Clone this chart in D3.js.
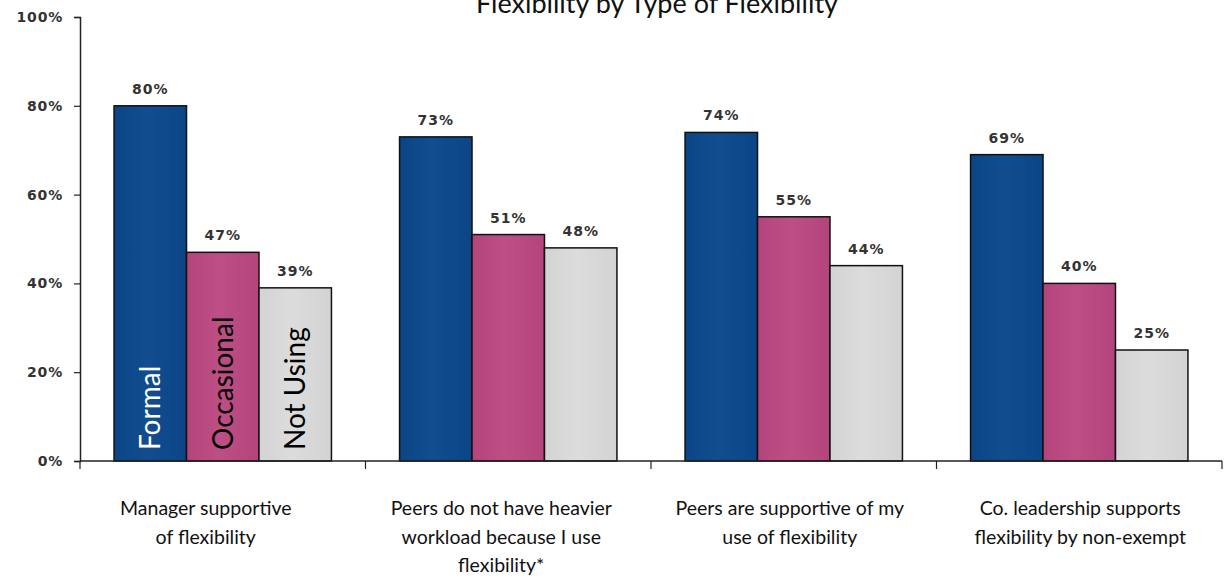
<!DOCTYPE html>
<html>
<head>
<meta charset="utf-8">
<script src="https://cdn.jsdelivr.net/npm/d3@7"></script>
<style>
  html, body { margin: 0; padding: 0; background: #fff; }
  svg { display: block; }
</style>
</head>
<body>
<svg id="chart" width="1228" height="578"></svg>
<script>
// Share of employees agreeing, by type of flexibility arrangement
const categories = [
  ["Manager supportive", "of flexibility"],
  ["Peers do not have heavier", "workload because I use", "flexibility*"],
  ["Peers are supportive of my", "use of flexibility"],
  ["Co. leadership supports", "flexibility by non-exempt"]
];
const seriesNames = ["Formal", "Occasional", "Not Using"];
const formal     = [80, 73, 74, 69];
const occasional = [47, 51, 55, 40];
const notUsing   = [39, 48, 44, 25];
const yTicks = [0, 20, 40, 60, 80, 100];
const title = "Flexibility by Type of Flexibility";

const seriesValues = [formal, occasional, notUsing];
const fills = ["#0b4586", "#b4457c", "#d3d3d3"];
const fillsLight = ["#114d8f", "#bd4f86", "#dcdcdc"];
const inBarText = ["#ffffff", "#000000", "#000000"];
// horizontal nudge for each category caption (px)
const captionNudge = [-17, -7, -4, 1];

const svg = d3.select("#chart");
const margin = { left: 80, right: 6, top: 17, bottom: 117 };
const W = 1228, H = 578;

const x0 = d3.scaleBand()
  .domain(d3.range(categories.length))
  .range([margin.left, W - margin.right])
  .paddingInner(0).paddingOuter(0);
const x1 = d3.scaleBand()
  .domain(d3.range(seriesNames.length))
  .range([0, x0.bandwidth()])
  .paddingOuter(0.47).paddingInner(0);
const y = d3.scaleLinear().domain([0, 100]).range([H - margin.bottom, margin.top]);

// soft horizontal shading on each bar
const defs = svg.append("defs");
fills.forEach((c, i) => {
  const g = defs.append("linearGradient").attr("id", "g" + i)
    .attr("x1", "0").attr("x2", "1").attr("y1", "0").attr("y2", "0");
  g.append("stop").attr("offset", "0%").attr("stop-color", c);
  g.append("stop").attr("offset", "45%").attr("stop-color", fillsLight[i]);
  g.append("stop").attr("offset", "100%").attr("stop-color", c);
});

// title
svg.append("text")
  .attr("x", 657).attr("y", 13)
  .attr("text-anchor", "middle")
  .attr("font-family", "Lato, 'Open Sans', sans-serif")
  .attr("font-size", 27)
  .attr("fill", "#111")
  .text(title);

// bars
const groups = svg.append("g").selectAll("g")
  .data(categories.map((c, i) => i))
  .join("g")
  .attr("transform", i => `translate(${x0(i)},0)`);

groups.selectAll("rect")
  .data(i => seriesValues.map((s, k) => ({ k, v: s[i] })))
  .join("rect")
  .attr("x", d => x1(d.k))
  .attr("y", d => y(d.v))
  .attr("width", x1.bandwidth())
  .attr("height", d => y(0) - y(d.v))
  .attr("fill", d => `url(#g${d.k})`)
  .attr("stroke", "#111")
  .attr("stroke-width", 1.5);

// value labels
groups.selectAll("text.val")
  .data(i => seriesValues.map((s, k) => ({ k, v: s[i] })))
  .join("text")
  .attr("class", "val")
  .attr("x", d => x1(d.k) + x1.bandwidth() / 2)
  .attr("y", d => y(d.v) - 12)
  .attr("text-anchor", "middle")
  .attr("font-family", "'DejaVu Sans', Verdana, sans-serif")
  .attr("font-size", 14)
  .attr("font-weight", "bold")
  .attr("letter-spacing", 1)
  .attr("fill", "#333")
  .text(d => d.v + "%");

// series names written inside the first group's bars
svg.append("g").selectAll("text")
  .data(seriesNames)
  .join("text")
  .attr("transform", (d, k) => `translate(${x0(0) + x1(k) + x1.bandwidth() / 2 + 10},${y(0) - 11}) rotate(-90)`)
  .attr("font-family", "Lato, 'Open Sans', sans-serif")
  .attr("font-size", 28)
  .attr("fill", (d, k) => inBarText[k])
  .text(d => d);

// y axis
const yAxis = d3.axisLeft(y).tickValues(yTicks).tickFormat(d => d + "%").tickSize(6).tickPadding(11);
const ya = svg.append("g").attr("transform", `translate(${margin.left},0)`).call(yAxis);
ya.select(".domain").attr("stroke", "#222").attr("stroke-width", 1.5);
ya.selectAll(".tick line").attr("stroke", "#222").attr("stroke-width", 1.2);
ya.selectAll(".tick text")
  .attr("font-family", "'DejaVu Sans', Verdana, sans-serif")
  .attr("font-size", 14)
  .attr("font-weight", "bold")
  .attr("letter-spacing", 0.8)
  .attr("fill", "#333");

// x axis with separators between categories
const xa = svg.append("g").attr("transform", `translate(0,${y(0)})`);
xa.append("line")
  .attr("x1", margin.left).attr("x2", W - margin.right)
  .attr("stroke", "#222").attr("stroke-width", 1.5);
xa.selectAll("line.sep")
  .data(d3.range(categories.length + 1))
  .join("line")
  .attr("class", "sep")
  .attr("x1", i => i < categories.length ? x0(i) : x0.range()[1])
  .attr("x2", i => i < categories.length ? x0(i) : x0.range()[1])
  .attr("y1", 0).attr("y2", 8)
  .attr("stroke", "#222").attr("stroke-width", 1.2);

// category labels
const cat = svg.append("g").selectAll("text")
  .data(categories)
  .join("text")
  .attr("x", (d, i) => x0(i) + x0.bandwidth() / 2 + captionNudge[i])
  .attr("y", 515)
  .attr("text-anchor", "middle")
  .attr("font-family", "Lato, 'Open Sans', sans-serif")
  .attr("font-size", 19.5)
  .attr("fill", "#111");
cat.selectAll("tspan")
  .data(d => d)
  .join("tspan")
  .attr("x", function () { return d3.select(this.parentNode).attr("x"); })
  .attr("dy", (d, j) => j === 0 ? 0 : 28.5)
  .text(d => d);
</script>
</body>
</html>
